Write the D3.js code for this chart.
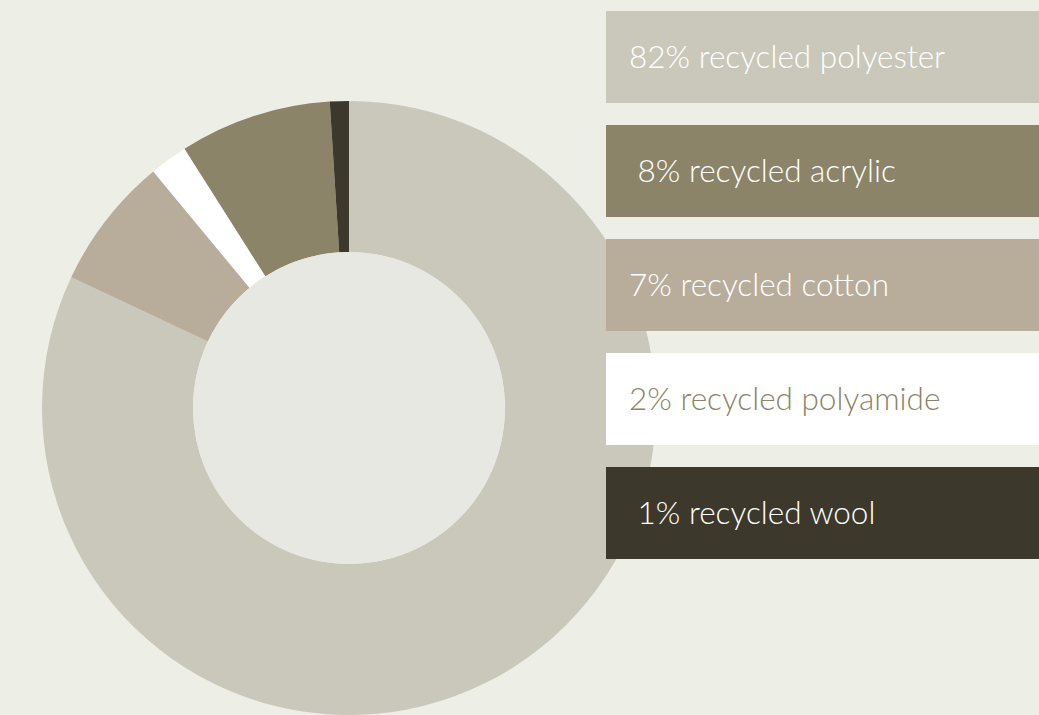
<!DOCTYPE html>
<html>
<head>
<meta charset="utf-8">
<script src="https://cdn.jsdelivr.net/npm/d3@7"></script>
<style>
  html, body { margin: 0; padding: 0; background: #edeee5; }
  svg { display: block; }
  text { font-family: Lato, "Noto Sans", sans-serif; font-weight: 300; white-space: pre; }
</style>
</head>
<body>
<svg id="chart" width="1039" height="715"></svg>
<script>
// Fibre composition (percent of total)
const materials = ["recycled polyester", "recycled cotton", "recycled polyamide", "recycled acrylic", "recycled wool"];
const shares = [82, 7, 2, 8, 1];
const sliceColors = ["#c9c8bb", "#b8ad9a", "#ffffff", "#8b8468", "#3c382c"];

// Legend entries, listed top to bottom
const legendLabels = ["82% recycled polyester", " 8% recycled acrylic", "7% recycled cotton", "2% recycled polyamide", " 1% recycled wool"];
const legendFills = ["#c9c8bb", "#8b8468", "#b8ad9a", "#ffffff", "#3c382c"];
const legendText = ["#ffffff", "#ffffff", "#ffffff", "#8b8468", "#ffffff"];

const svg = d3.select("#chart");
const W = 1039, H = 715;
svg.append("rect").attr("width", W).attr("height", H).attr("fill", "#edeee5");

const cx = 349, cy = 408, outerR = 307, innerR = 156;

const pie = d3.pie().sort(null).value(d => d.v);
const arcs = pie(shares.map((v, i) => ({ v, name: materials[i], color: sliceColors[i] })));
const arc = d3.arc().innerRadius(innerR).outerRadius(outerR);

const donut = svg.append("g").attr("transform", `translate(${cx},${cy})`);
donut.selectAll("path.slice")
  .data(arcs)
  .join("path")
  .attr("class", "slice")
  .attr("d", arc)
  .attr("fill", d => d.data.color);

// centre disc
donut.append("circle").attr("r", innerR).attr("fill", "#e8e8e2");

// Legend panels on the right: 92px tall, 114px apart
const step = 114, gap = 22;
const boxY = d3.scaleBand()
  .domain(d3.range(legendLabels.length))
  .range([11, 11 + step * legendLabels.length - gap])
  .paddingInner(gap / step)
  .paddingOuter(0);

const legend = svg.append("g");
const rows = legend.selectAll("g.row")
  .data(legendLabels)
  .join("g")
  .attr("class", "row")
  .attr("transform", (d, i) => `translate(606,${boxY(i)})`);

rows.append("rect")
  .attr("width", W - 606)
  .attr("height", boxY.bandwidth())
  .attr("fill", (d, i) => legendFills[i]);

rows.append("text")
  .attr("x", 23)
  .attr("y", boxY.bandwidth() / 2)
  .attr("dy", "0.36em")
  .attr("font-size", 31.5)
  .attr("fill", (d, i) => legendText[i])
  .text(d => d);
</script>
</body>
</html>
